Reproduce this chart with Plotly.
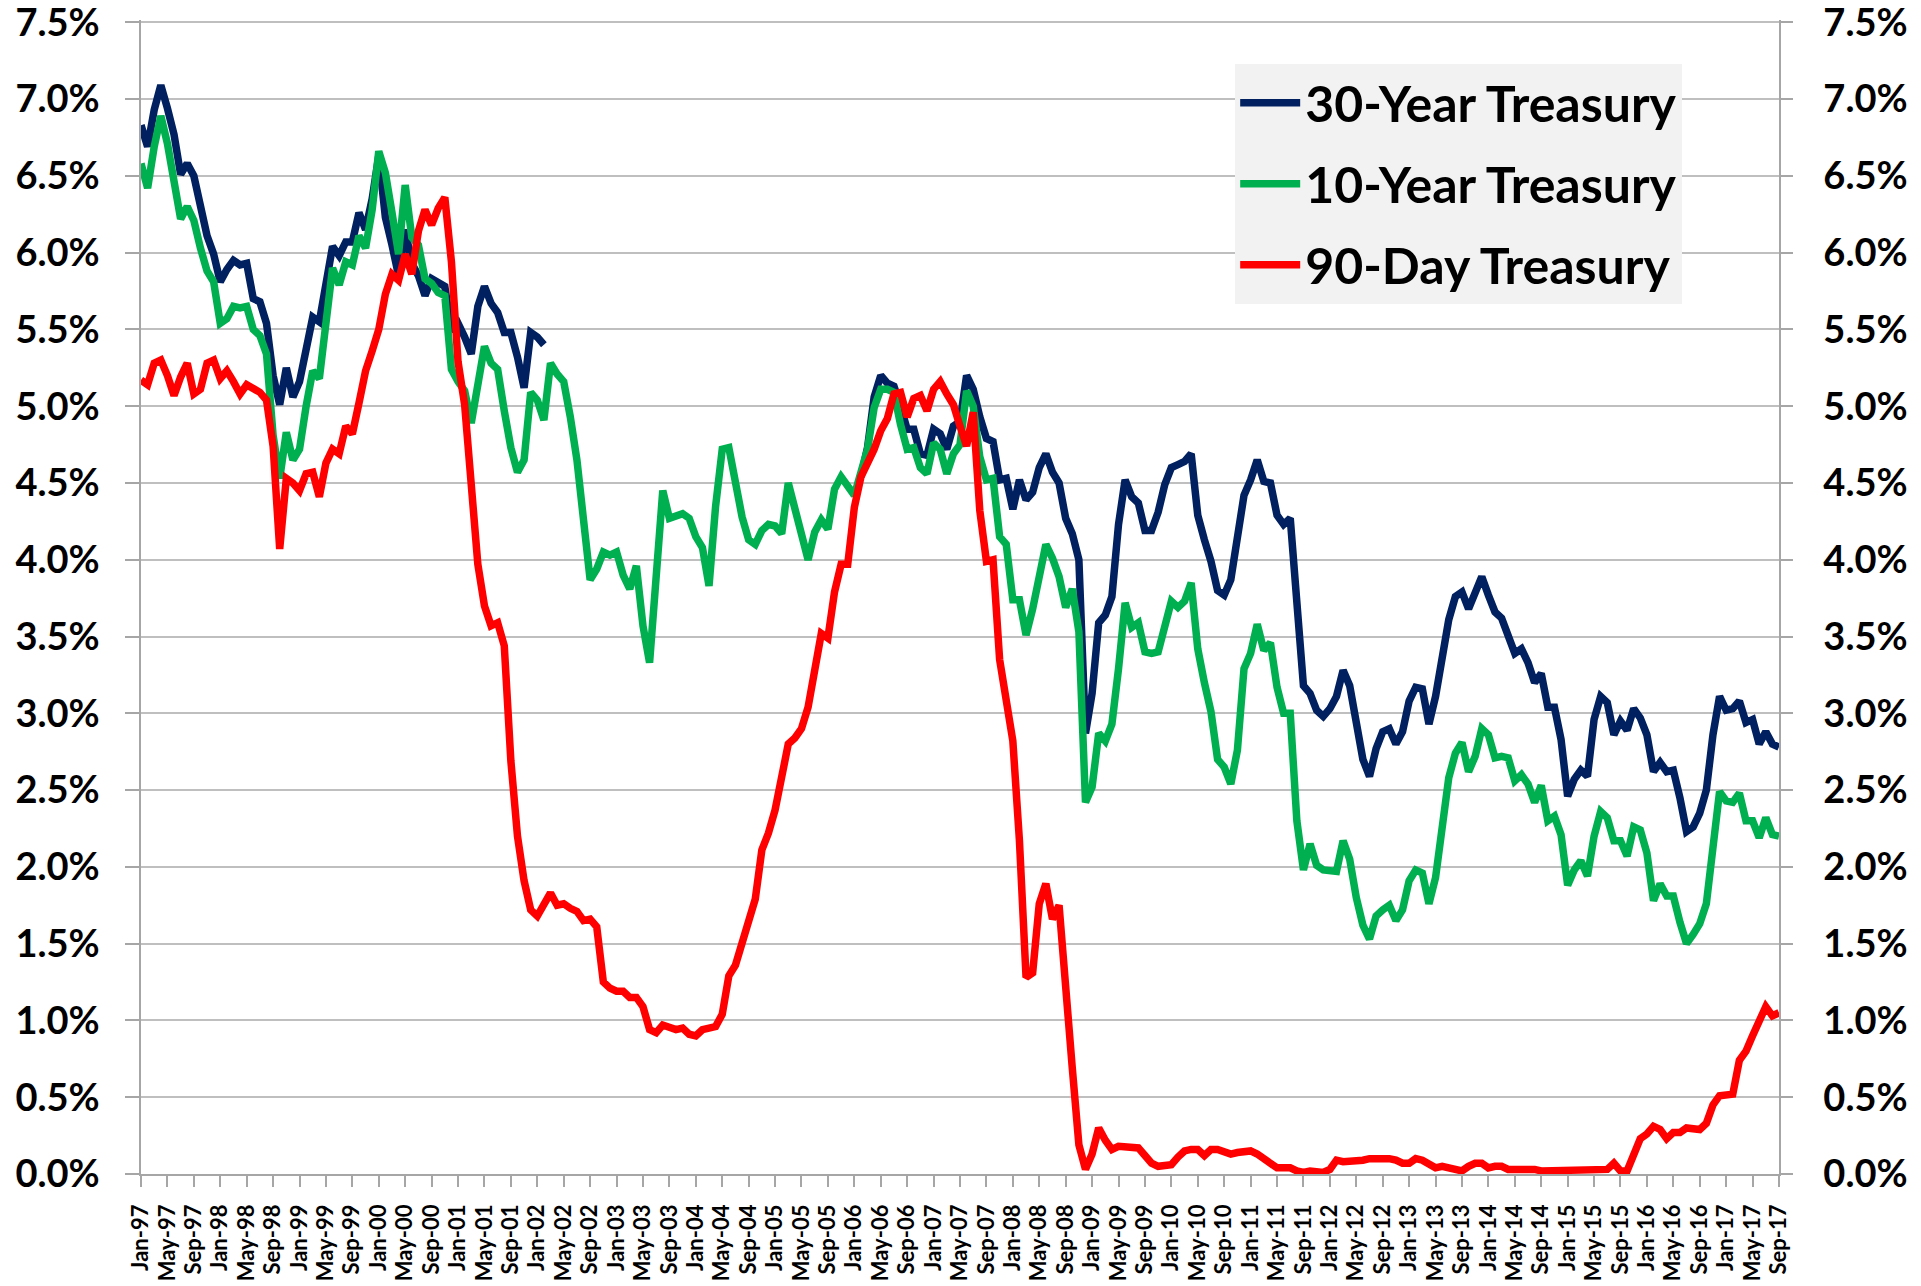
import pandas as pd
import plotly.graph_objects as go

# ---- categories (monthly, Jan-97 .. Sep-17) ----
months = pd.date_range("1997-01-01", "2017-09-01", freq="MS")
month_labels = [d.strftime("%b-%y") for d in months]
tick_labels = month_labels[::4]

# ---- 30-Year Treasury (%), Jan-97..Feb-02, gap, Feb-06..Sep-17 ----
thirty_1997_2002 = [
    6.83, 6.69, 6.93, 7.09, 6.94, 6.77, 6.51, 6.58, 6.50, 6.33, 6.11, 5.99,
    5.81, 5.89, 5.95, 5.92, 5.93, 5.70, 5.68, 5.54, 5.20, 5.01, 5.25, 5.06,
    5.16, 5.37, 5.58, 5.55, 5.81, 6.04, 5.98, 6.07, 6.07, 6.26, 6.15, 6.35,
    6.63, 6.23, 6.05, 5.85, 6.15, 5.93, 5.85, 5.72, 5.83, 5.80, 5.78, 5.49,
    5.54, 5.45, 5.34, 5.65, 5.78, 5.67, 5.61, 5.48, 5.48, 5.32, 5.12, 5.48,
    5.45, 5.40,
]
thirty_gap = [None] * 47
thirty_2006_2017 = [
    4.54, 4.73, 5.06, 5.20, 5.15, 5.13, 5.00, 4.85, 4.85, 4.69, 4.68,
    4.85, 4.82, 4.72, 4.87, 4.90, 5.20, 5.11, 4.93, 4.79, 4.77, 4.52, 4.53,
    4.33, 4.52, 4.39, 4.44, 4.60, 4.69, 4.57, 4.50, 4.27, 4.17, 4.00, 2.87,
    3.13, 3.59, 3.64, 3.76, 4.23, 4.52, 4.41, 4.37, 4.19, 4.19, 4.31, 4.49,
    4.60, 4.62, 4.64, 4.69, 4.29, 4.13, 3.99, 3.80, 3.77, 3.87, 4.19, 4.42,
    4.52, 4.65, 4.51, 4.50, 4.29, 4.23, 4.27, 3.65, 3.18, 3.13, 3.02, 2.98,
    3.03, 3.11, 3.28, 3.18, 2.93, 2.70, 2.59, 2.77, 2.88, 2.90, 2.80, 2.88,
    3.08, 3.17, 3.16, 2.93, 3.11, 3.40, 3.61, 3.76, 3.79, 3.68, 3.80, 3.89,
    3.77, 3.66, 3.62, 3.52, 3.39, 3.42, 3.33, 3.20, 3.26, 3.04, 3.04, 2.83,
    2.46, 2.57, 2.63, 2.59, 2.96, 3.11, 3.07, 2.86, 2.95, 2.89, 3.03, 2.97,
    2.86, 2.62, 2.68, 2.62, 2.63, 2.45, 2.23, 2.26, 2.35, 2.50, 2.86, 3.11,
    3.02, 3.03, 3.08, 2.94, 2.96, 2.80, 2.88, 2.80, 2.78,
]
thirty_year = thirty_1997_2002 + thirty_gap + thirty_2006_2017

# ---- 10-Year Treasury (%) ----
ten_year = [
    6.58, 6.42, 6.69, 6.89, 6.71, 6.49, 6.22, 6.30, 6.21, 6.03, 5.88, 5.81,
    5.54, 5.57, 5.65, 5.64, 5.65, 5.50, 5.46, 5.34, 4.81, 4.53, 4.83, 4.65,
    4.72, 5.00, 5.23, 5.18, 5.54, 5.90, 5.79, 5.94, 5.92, 6.11, 6.03, 6.28,
    6.66, 6.52, 6.26, 5.99, 6.44, 6.10, 6.05, 5.83, 5.80, 5.74, 5.72, 5.24,
    5.16, 5.10, 4.89, 5.14, 5.39, 5.28, 5.24, 4.97, 4.73, 4.57, 4.65, 5.09,
    5.04, 4.91, 5.28, 5.21, 5.16, 4.93, 4.65, 4.26, 3.87, 3.94, 4.05, 4.03,
    4.05, 3.90, 3.81, 3.96, 3.57, 3.33, 3.98, 4.45, 4.27, 4.29, 4.30, 4.27,
    4.15, 4.08, 3.83, 4.35, 4.72, 4.73, 4.50, 4.28, 4.13, 4.10, 4.19, 4.23,
    4.22, 4.17, 4.50, 4.34, 4.14, 4.00, 4.18, 4.26, 4.20, 4.46, 4.54, 4.47,
    4.42, 4.57, 4.72, 4.99, 5.11, 5.11, 5.09, 4.88, 4.72, 4.73, 4.60, 4.56,
    4.76, 4.72, 4.56, 4.69, 4.75, 5.10, 5.00, 4.67, 4.52, 4.53, 4.15, 4.10,
    3.74, 3.74, 3.51, 3.68, 3.88, 4.10, 4.01, 3.89, 3.69, 3.81, 3.53, 2.42,
    2.52, 2.87, 2.82, 2.93, 3.29, 3.72, 3.56, 3.59, 3.40, 3.39, 3.40, 3.59,
    3.73, 3.69, 3.73, 3.85, 3.42, 3.20, 3.01, 2.70, 2.65, 2.54, 2.76, 3.29,
    3.39, 3.58, 3.41, 3.46, 3.17, 3.00, 3.00, 2.30, 1.98, 2.15, 2.01, 1.98,
    1.97, 1.97, 2.17, 2.05, 1.80, 1.62, 1.53, 1.68, 1.72, 1.75, 1.65, 1.72,
    1.91, 1.98, 1.96, 1.76, 1.93, 2.30, 2.58, 2.74, 2.81, 2.62, 2.72, 2.90,
    2.86, 2.71, 2.72, 2.71, 2.56, 2.60, 2.54, 2.42, 2.53, 2.30, 2.33, 2.21,
    1.88, 1.98, 2.04, 1.94, 2.20, 2.36, 2.32, 2.17, 2.17, 2.07, 2.26, 2.24,
    2.09, 1.78, 1.89, 1.81, 1.81, 1.64, 1.50, 1.56, 1.63, 1.76, 2.14, 2.49,
    2.43, 2.42, 2.48, 2.30, 2.30, 2.19, 2.32, 2.21, 2.20,
]

# ---- 90-Day Treasury (%) ----
ninety_day = [
    5.17, 5.14, 5.28, 5.30, 5.20, 5.07, 5.19, 5.28, 5.08, 5.11, 5.28, 5.30,
    5.18, 5.23, 5.16, 5.08, 5.14, 5.12, 5.09, 5.04, 4.74, 4.07, 4.53, 4.50,
    4.45, 4.56, 4.57, 4.41, 4.63, 4.72, 4.69, 4.87, 4.82, 5.02, 5.23, 5.36,
    5.50, 5.73, 5.86, 5.82, 5.99, 5.86, 6.14, 6.28, 6.18, 6.29, 6.36, 5.94,
    5.29, 5.01, 4.54, 3.97, 3.70, 3.57, 3.59, 3.44, 2.69, 2.20, 1.91, 1.72,
    1.68, 1.76, 1.83, 1.75, 1.76, 1.73, 1.71, 1.65, 1.66, 1.61, 1.25, 1.21,
    1.19, 1.19, 1.15, 1.15, 1.09, 0.94, 0.92, 0.97, 0.96, 0.94, 0.95, 0.91,
    0.90, 0.94, 0.95, 0.96, 1.04, 1.29, 1.36, 1.50, 1.68, 1.79, 2.11, 2.22,
    2.37, 2.58, 2.80, 2.84, 2.90, 3.04, 3.29, 3.52, 3.49, 3.79, 3.97, 3.97,
    4.34, 4.54, 4.63, 4.72, 4.84, 4.92, 5.08, 5.09, 4.93, 5.05, 5.07, 4.97,
    5.11, 5.16, 5.08, 5.01, 4.87, 4.74, 4.96, 4.32, 3.99, 4.00, 3.35, 3.07,
    2.82, 2.17, 1.28, 1.31, 1.76, 1.89, 1.66, 1.75, 1.15, 0.69, 0.19, 0.03,
    0.13, 0.30, 0.22, 0.16, 0.18, 0.18, 0.18, 0.17, 0.12, 0.07, 0.05, 0.05,
    0.06, 0.11, 0.15, 0.16, 0.16, 0.12, 0.16, 0.16, 0.15, 0.13, 0.14, 0.14,
    0.15, 0.13, 0.10, 0.06, 0.04, 0.04, 0.04, 0.02, 0.01, 0.02, 0.01, 0.01,
    0.03, 0.09, 0.08, 0.08, 0.09, 0.09, 0.10, 0.10, 0.11, 0.10, 0.09, 0.07,
    0.07, 0.10, 0.09, 0.06, 0.04, 0.05, 0.04, 0.04, 0.02, 0.05, 0.07, 0.07,
    0.04, 0.05, 0.05, 0.03, 0.03, 0.04, 0.03, 0.03, 0.02, 0.02, 0.02, 0.03,
    0.03, 0.02, 0.03, 0.02, 0.02, 0.02, 0.03, 0.07, 0.02, 0.02, 0.13, 0.23,
    0.26, 0.31, 0.29, 0.23, 0.27, 0.27, 0.30, 0.30, 0.29, 0.33, 0.45, 0.51,
    0.51, 0.52, 0.74, 0.80, 0.90, 1.00, 1.09, 1.03, 1.05,
]

y_ticks = [i * 0.5 for i in range(16)]
y_tick_text = [f"{v:.1f}%" for v in y_ticks]

NAVY = "#002060"
GREEN = "#00B050"
RED = "#FF0000"
FONT = "Lato"
GRID = "#BFBFBF"
AXIS = "#A6A6A6"

fig = go.Figure()
fig.add_trace(go.Scatter(x=month_labels, y=thirty_year, name="30-Year Treasury",
                         mode="lines", line=dict(color=NAVY, width=7.5),
                         connectgaps=False, legendgroup="a"))
fig.add_trace(go.Scatter(x=month_labels, y=ten_year, name="10-Year Treasury",
                         mode="lines", line=dict(color=GREEN, width=7.5), legendgroup="b"))
fig.add_trace(go.Scatter(x=month_labels, y=ninety_day, name="90-Day Treasury",
                         mode="lines", line=dict(color=RED, width=7.5), legendgroup="c"))
# empty trace to activate the mirrored right axis
fig.add_trace(go.Scatter(x=[], y=[], yaxis="y2", showlegend=False, hoverinfo="skip"))

tick_font = dict(family=FONT, size=38, color="black", weight="bold")
y_range = [0, 7.515]

# page body has an 8px default margin: figure sized to end at the window edge
fig.update_layout(
    width=1913, height=1278,
    margin=dict(l=133, r=142, t=12, b=112),
    paper_bgcolor="white", plot_bgcolor="white",
    showlegend=True,
    legend=dict(x=0.668, y=0.962, xanchor="left", yanchor="top",
                bgcolor="#F2F2F2", borderwidth=0, itemwidth=60,
                font=dict(family=FONT, size=50, color="black", weight="bold"),
                tracegroupgap=13, traceorder="grouped"),
    xaxis=dict(type="category", categoryorder="array", categoryarray=month_labels,
               range=[0, len(month_labels) - 1], automargin=False,
               tickmode="array", tickvals=tick_labels, ticktext=tick_labels,
               tickangle=-90, ticks="outside", ticklen=11, tickcolor=AXIS,
               tickwidth=1.5, ticklabelstandoff=9, ticklabeloverflow="allow",
               tickfont=dict(family=FONT, size=22, color="black", weight="bold"),
               showgrid=False, showline=True, linecolor=AXIS, linewidth=1.5,
               zeroline=False),
    yaxis=dict(range=y_range, tickmode="array", tickvals=y_ticks,
               ticktext=y_tick_text, automargin=False, ticklabeloverflow="allow",
               ticks="outside", ticklen=14, tickcolor=AXIS, tickwidth=1.5,
               ticklabelstandoff=18,
               tickfont=tick_font, showgrid=True, gridcolor=GRID, gridwidth=1.5,
               showline=True, linecolor=AXIS, linewidth=1.5, zeroline=False),
    yaxis2=dict(range=y_range, overlaying="y", side="right", tickmode="array",
                tickvals=y_ticks, ticktext=y_tick_text, automargin=False,
                ticklabeloverflow="allow",
                ticks="outside", ticklen=12, tickcolor=AXIS, tickwidth=1.5,
                ticklabelstandoff=23,
                tickfont=tick_font, showgrid=False, showline=True,
                linecolor=AXIS, linewidth=1.5, zeroline=False),
)

fig.write_html("out.html")
